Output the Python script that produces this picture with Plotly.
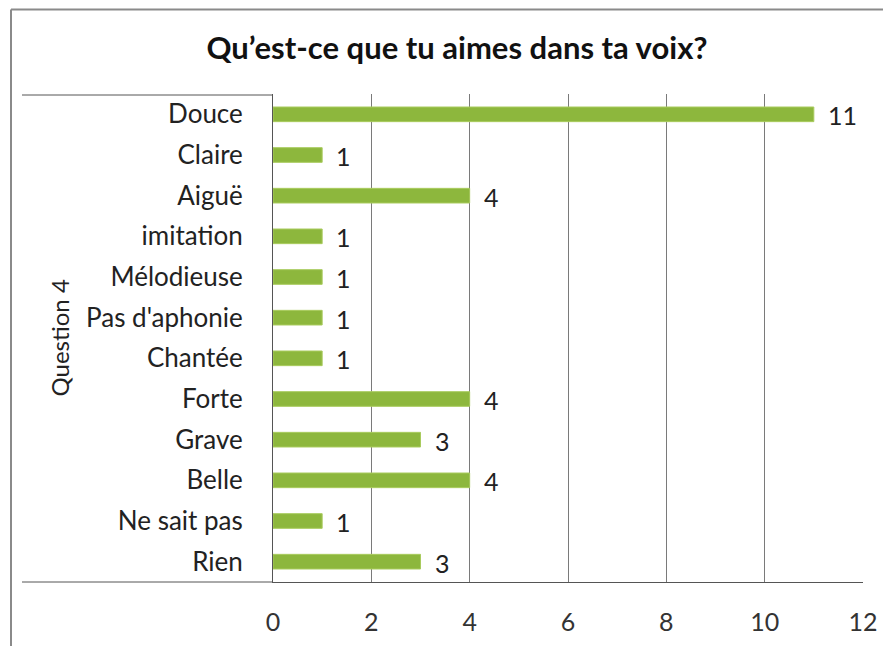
import plotly.graph_objects as go

# Question 4 - réponses
categories = ['Douce', 'Claire', 'Aiguë', 'imitation', 'Mélodieuse', "Pas d'aphonie",
              'Chantée', 'Forte', 'Grave', 'Belle', 'Ne sait pas', 'Rien']
values = [11, 1, 4, 1, 1, 1, 1, 4, 3, 4, 1, 3]
x_ticks = [0, 2, 4, 6, 8, 10, 12]

TITLE = "Qu’est-ce que tu aimes dans ta voix?"
GROUP = 'Question 4'
FONT = 'Lato, Open Sans, sans-serif'

OFF = 8  # marge par défaut du <body> dans la page
W, H = 891 - OFF, 646 - OFF  # la figure tient dans la fenêtre
L, T = 273 - OFF, 94 - OFF
R, B = W - (863 - OFF), H - (582 - OFF)
pw, ph = W - L - R, H - T - B


def px_x(p):
    # pixel de la capture -> coordonnée paper
    return (p - OFF - L) / pw


def px_y(p):
    return (H - B - (p - OFF)) / ph


fig = go.Figure()
fig.add_trace(go.Bar(
    x=values,
    y=categories,
    orientation='h',
    width=0.36,
    marker=dict(color='#8DB73D', line=dict(color='#A9CB5E', width=1)),
    hoverinfo='x+y',
))

# étiquettes de données
annotations = [dict(x=v, y=c, text=str(v), xref='x', yref='y', showarrow=False,
                    xanchor='left', xshift=12, yshift=-1,
                    font=dict(size=25, color='#222', family=FONT))
               for c, v in zip(categories, values)]
annotations.append(dict(text=GROUP, textangle=-90, xref='paper', yref='paper',
                        x=px_x(42), y=px_y(338), showarrow=False,
                        font=dict(size=24, color='#222', family=FONT)))

frame = dict(color='#8a8a8a', width=2)
axis_line = dict(color='#555', width=1)
shapes = [
    # cadre extérieur (haut et gauche seulement visibles)
    dict(type='line', xref='paper', yref='paper',
         x0=px_x(11), x1=px_x(900), y0=px_y(9.5), y1=px_y(9.5), line=frame),
    dict(type='line', xref='paper', yref='paper',
         x0=px_x(11), x1=px_x(11), y0=px_y(9.5), y1=px_y(670), line=frame),
    # boîte de l'axe des catégories
    dict(type='line', xref='paper', yref='paper',
         x0=px_x(22), x1=0, y0=px_y(95), y1=px_y(95), line=axis_line),
    dict(type='line', xref='paper', yref='paper',
         x0=px_x(22), x1=0, y0=0, y1=0, line=axis_line),
]

fig.update_layout(
    width=W, height=H,
    margin=dict(l=L, r=R, t=T, b=B, autoexpand=False),
    paper_bgcolor='white', plot_bgcolor='white',
    font=dict(family=FONT, color='#222'),
    showlegend=False,
    title=dict(text=f'<b>{TITLE}</b>', x=(457 - OFF) / W, xanchor='center',
               y=1 - (48 - OFF) / H, yanchor='middle',
               font=dict(size=31, color='#111', family=FONT)),
    shapes=shapes,
    annotations=annotations,
    xaxis=dict(range=[0, 12], tickvals=x_ticks, showgrid=True,
               gridcolor='#7a7a7a', gridwidth=1, zeroline=False,
               showline=True, linecolor='#555', linewidth=1,
               tickfont=dict(size=25, color='#333'), ticklabelstandoff=18),
    yaxis=dict(categoryorder='array', categoryarray=categories,
               autorange='reversed', showgrid=False, showline=True,
               linecolor='#555', linewidth=1,
               tickfont=dict(size=26, color='#222'), ticklabelstandoff=24),
    bargap=0.6,
)

fig.write_html('out.html')
